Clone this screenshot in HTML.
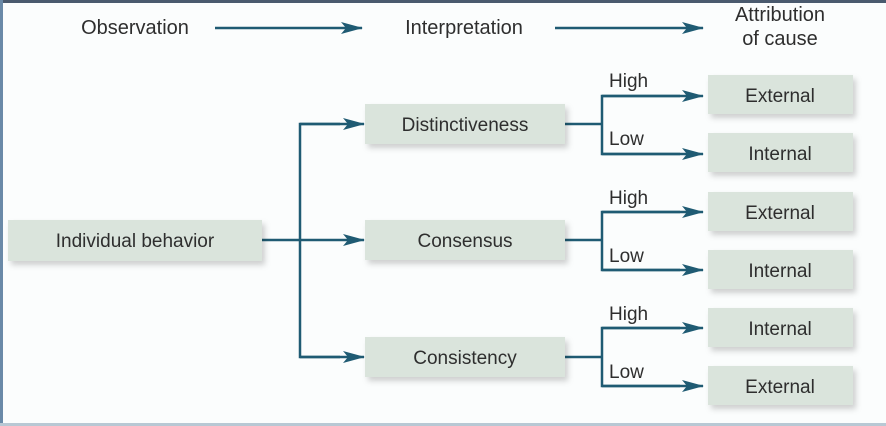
<!DOCTYPE html>
<html><head><style>
html,body{margin:0;padding:0;background:#fff;}
svg{display:block}
text{font-family:"Liberation Sans",sans-serif;fill:#2e2e2e;}
</style></head><body>
<svg width="886" height="426" viewBox="0 0 886 426" xmlns="http://www.w3.org/2000/svg">
<defs>
<marker id="a" markerWidth="22" markerHeight="12" refX="21" refY="6" orient="auto" markerUnits="userSpaceOnUse">
<path d="M0,0 L22,6 L0,12 L5,6 z" fill="#1f5b73"/>
</marker>
<filter id="s" x="-10%" y="-20%" width="130%" height="160%"><feDropShadow dx="3" dy="4" stdDeviation="3" flood-color="#000" flood-opacity="0.18"/></filter>
</defs>
<rect x="0" y="0" width="886" height="426" fill="#fbfdfd"/>
<rect x="0" y="0" width="886" height="3" fill="#4a5a6e"/>
<rect x="0" y="0" width="3" height="426" fill="#6a8aa8"/>
<rect x="0" y="423" width="886" height="3" fill="#b8c8d4"/>
<g font-size="20" text-anchor="middle">
<text x="135" y="34">Observation</text>
<text x="464" y="34">Interpretation</text>
<text x="780" y="21">Attribution</text>
<text x="780" y="45">of cause</text>
</g>
<g stroke="#1f5b73" stroke-width="2.5" fill="none">
<line x1="215" y1="28" x2="362" y2="28" marker-end="url(#a)"/>
<line x1="555" y1="28" x2="703" y2="28" marker-end="url(#a)"/>
<line x1="262" y1="240" x2="364" y2="240" marker-end="url(#a)"/>
<polyline points="340,124 300,124 300,357 340,357" />
<line x1="300" y1="124" x2="364" y2="124" marker-end="url(#a)"/>
<line x1="300" y1="357" x2="364" y2="357" marker-end="url(#a)"/>
<line x1="565" y1="124" x2="602" y2="124"/>
<line x1="565" y1="240" x2="602" y2="240"/>
<line x1="565" y1="357" x2="602" y2="357"/>
<polyline points="680,96 602,96 602,154 680,154"/>
<line x1="602" y1="96" x2="703" y2="96" marker-end="url(#a)"/>
<line x1="602" y1="154" x2="703" y2="154" marker-end="url(#a)"/>
<polyline points="680,212 602,212 602,270 680,270"/>
<line x1="602" y1="212" x2="703" y2="212" marker-end="url(#a)"/>
<line x1="602" y1="270" x2="703" y2="270" marker-end="url(#a)"/>
<polyline points="680,328 602,328 602,386 680,386"/>
<line x1="602" y1="328" x2="703" y2="328" marker-end="url(#a)"/>
<line x1="602" y1="386" x2="703" y2="386" marker-end="url(#a)"/>
</g>
<g fill="#dae4dc" filter="url(#s)">
<rect x="8" y="220" width="254" height="41"/>
<rect x="365" y="104" width="200" height="40"/>
<rect x="365" y="220" width="200" height="40"/>
<rect x="365" y="337" width="200" height="40"/>
<rect x="708" y="75" width="145" height="39"/>
<rect x="708" y="133" width="145" height="39"/>
<rect x="708" y="192" width="145" height="39"/>
<rect x="708" y="250" width="145" height="39"/>
<rect x="708" y="308" width="145" height="39"/>
<rect x="708" y="366" width="145" height="39"/>
</g>
<g font-size="19" text-anchor="middle">
<text x="135" y="247">Individual behavior</text>
<text x="465" y="131">Distinctiveness</text>
<text x="465" y="247">Consensus</text>
<text x="465" y="364">Consistency</text>
<text x="780" y="102">External</text>
<text x="780" y="160">Internal</text>
<text x="780" y="219">External</text>
<text x="780" y="277">Internal</text>
<text x="780" y="335">Internal</text>
<text x="780" y="393">External</text>
</g>
<g font-size="19">
<text x="609" y="87">High</text>
<text x="609" y="145">Low</text>
<text x="609" y="204">High</text>
<text x="609" y="262">Low</text>
<text x="609" y="320">High</text>
<text x="609" y="378">Low</text>
</g>
</svg>
</body></html>
